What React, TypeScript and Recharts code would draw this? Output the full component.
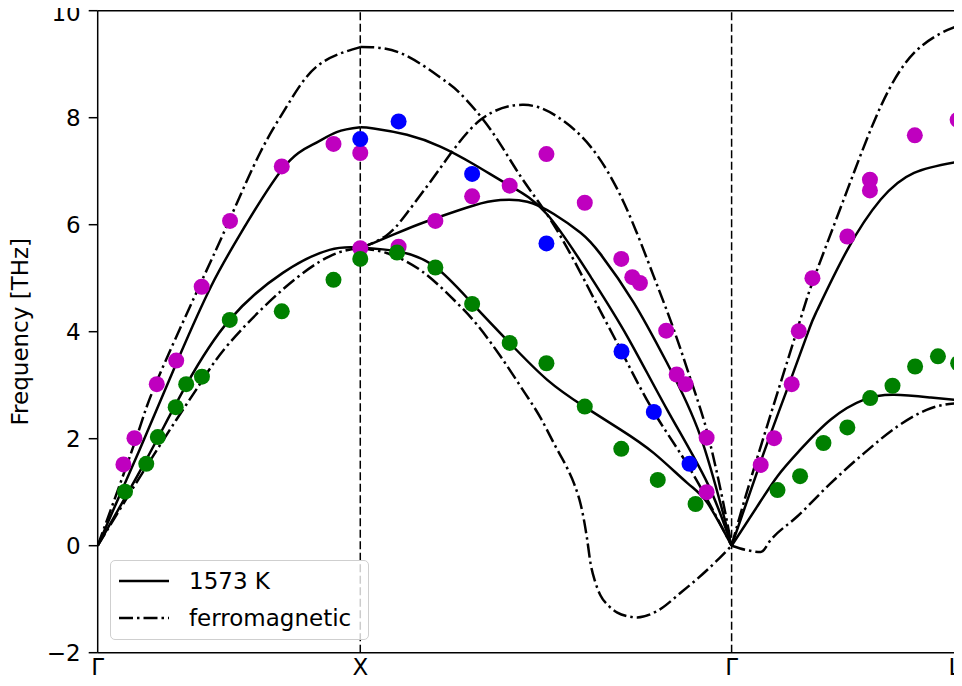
import { ComposedChart, Line, Scatter, XAxis, YAxis, ReferenceLine } from 'recharts';

// path coordinates of the high-symmetry points (Γ-X-Γ-L in fcc)
const symPoints = [0, 1, 2.4142, 3.2802];
const symLabels = ['Γ', 'X', 'Γ', 'L'];
const freqTicks = [-2, 0, 2, 4, 6, 8, 10];

type Pt = { q: number; f: number };
const pts = (rows: number[][]): Pt[] => rows.map(([q, f]) => ({ q, f }));

// 1573 K dispersion (solid)
const gxSolidUpper = pts([[0, 0], [0.16, 1.8], [0.311, 3.54], [0.432, 4.85], [0.54, 5.8], [0.705, 7.05], [0.82, 7.5], [0.91, 7.73], [1.0, 7.82]]);
const gxSolidLower = pts([[0, 0], [0.184, 1.6], [0.337, 3.0], [0.502, 4.22], [0.705, 5.1], [0.883, 5.53], [1.0, 5.57]]);
const xgSolidA = pts([[1.0, 7.82], [1.051, 7.8], [1.178, 7.68], [1.305, 7.46], [1.432, 7.13], [1.569, 6.73], [1.712, 6.19], [1.877, 5.03], [2.017, 3.91], [2.169, 2.54], [2.322, 1.17], [2.4142, 0]]);
const xgSolidB = pts([[1.0, 5.57], [1.051, 5.66], [1.178, 5.92], [1.286, 6.12], [1.432, 6.36], [1.534, 6.46], [1.636, 6.43], [1.737, 6.2], [1.839, 5.85], [1.915, 5.45], [2.042, 4.54], [2.169, 3.41], [2.296, 2.04], [2.4142, 0]]);
const xgSolidC = pts([[1.0, 5.57], [1.146, 5.5], [1.286, 5.21], [1.426, 4.53], [1.567, 3.8], [1.712, 3.1], [1.853, 2.6], [1.991, 2.17], [2.118, 1.73], [2.246, 1.17], [2.322, 0.8], [2.4142, 0]]);
const glSolidUpper = pts([[2.4142, 0], [2.532, 1.67], [2.633, 3.02], [2.709, 4.04], [2.741, 4.41], [2.855, 5.53], [2.982, 6.47], [3.109, 6.97], [3.2802, 7.18]]);
const glSolidLower = pts([[2.4142, 0], [2.51, 0.72], [2.589, 1.3], [2.675, 1.79], [2.792, 2.36], [2.919, 2.73], [3.033, 2.82], [3.173, 2.77], [3.2802, 2.72]]);

// ferromagnetic dispersion (dash-dot)
const gxDashUpper = pts([[0, 0], [0.146, 2.0], [0.222, 3.04], [0.387, 4.85], [0.502, 6.09], [0.619, 7.35], [0.72, 8.21], [0.835, 8.96], [1.0, 9.32]]);
const gxDashLower = pts([[0, 0], [0.15, 1.2], [0.299, 2.35], [0.397, 3.08], [0.502, 3.79], [0.705, 4.79], [0.883, 5.41], [1.0, 5.56]]);
const xgDashTop = pts([[1.0, 9.32], [1.153, 9.21], [1.305, 8.75], [1.381, 8.45], [1.496, 7.78], [1.611, 6.9], [1.725, 6.09], [1.839, 5.1], [1.915, 4.38], [1.995, 3.63], [2.118, 2.5], [2.254, 1.45], [2.4142, 0]]);
const xgDashHump = pts([[1.0, 5.56], [1.1, 5.8], [1.178, 6.22], [1.305, 7.06], [1.458, 7.96], [1.623, 8.24], [1.75, 8.02], [1.877, 7.46], [2.004, 6.41], [2.118, 5.03], [2.194, 4.04], [2.271, 2.92], [2.322, 2.11], [2.372, 1.05], [2.4142, 0]]);
const xgDashSoft = pts([[1.0, 5.56], [1.1, 5.47], [1.235, 5.13], [1.343, 4.66], [1.445, 4.13], [1.534, 3.54], [1.61, 2.98], [1.69, 2.36], [1.743, 1.86], [1.788, 1.45], [1.815, 1.15], [1.839, 0.78], [1.853, 0.45], [1.864, 0.12], [1.877, -0.33], [1.895, -0.68], [1.915, -0.93], [1.945, -1.12], [1.979, -1.25], [2.02, -1.32], [2.055, -1.34], [2.131, -1.22], [2.22, -0.88], [2.322, -0.45], [2.4142, 0]]);
const glDashUpper = pts([[2.4142, 0], [2.506, 1.55], [2.663, 4.02], [2.728, 5.0], [2.855, 6.65], [2.982, 8.21], [3.109, 9.21], [3.237, 9.64], [3.2802, 9.71]]);
const glDashLower = pts([[2.4142, 0], [2.47, -0.08], [2.525, -0.12], [2.565, 0.12], [2.665, 0.55], [2.792, 1.17], [2.919, 1.73], [3.046, 2.23], [3.173, 2.57], [3.2802, 2.67]]);

// measured phonon frequencies
const measMagenta = pts([
  [0.098, 1.52], [0.14, 2.01], [0.225, 3.02], [0.299, 3.46], [0.396, 4.84], [0.504, 6.07], [0.701, 7.09], [0.898, 7.51],
  [1.0, 7.34], [1.0, 5.56], [1.146, 5.59], [1.286, 6.07], [1.426, 6.53], [1.569, 6.73], [1.709, 7.32], [1.855, 6.41],
  [1.994, 5.36], [2.036, 5.02], [2.065, 4.91], [2.165, 4.02], [2.205, 3.2], [2.239, 3.02], [2.319, 2.02], [2.319, 1.0],
  [2.525, 1.51], [2.576, 2.01], [2.643, 3.02], [2.67, 4.01], [2.722, 5.0], [2.855, 5.78], [2.941, 6.64], [2.941, 6.84],
  [3.112, 7.67], [3.275, 7.96],
]);
const measBlue = pts([[1.0, 7.6], [1.146, 7.93], [1.426, 6.95], [1.709, 5.65], [1.995, 3.63], [2.118, 2.5], [2.254, 1.53]]);
const measGreen = pts([
  [0.104, 1.01], [0.185, 1.53], [0.229, 2.03], [0.297, 2.59], [0.337, 3.02], [0.397, 3.16], [0.503, 4.22], [0.701, 4.38],
  [0.898, 4.97], [1.0, 5.36], [1.14, 5.48], [1.286, 5.2], [1.426, 4.52], [1.569, 3.79], [1.709, 3.41], [1.855, 2.6],
  [1.994, 1.81], [2.133, 1.23], [2.277, 0.78], [2.589, 1.04], [2.675, 1.3], [2.764, 1.92], [2.855, 2.21], [2.942, 2.76],
  [3.027, 2.99], [3.113, 3.35], [3.2, 3.54], [3.277, 3.41],
]);

// the soft branch and the small dip near Γ need a non-overshooting curve
const solidBands: [Pt[], 'natural' | 'monotone'][] = [
  [gxSolidUpper, 'natural'], [gxSolidLower, 'natural'], [xgSolidA, 'natural'], [xgSolidB, 'natural'],
  [xgSolidC, 'natural'], [glSolidUpper, 'natural'], [glSolidLower, 'natural'],
];
const dashBands: [Pt[], 'natural' | 'monotone'][] = [
  [gxDashUpper, 'natural'], [gxDashLower, 'natural'], [xgDashTop, 'natural'], [xgDashHump, 'natural'],
  [xgDashSoft, 'monotone'], [glDashUpper, 'natural'], [glDashLower, 'monotone'],
];

const FONT = '"DejaVu Sans", sans-serif';
const DASH_DOT = '14 4 2.5 4';

const dot = (color: string) => (p: any) => <circle cx={p.cx} cy={p.cy} r={8} fill={color} />;

const fmtFreq = (v: number) => (v < 0 ? `\u2212${Math.abs(v)}` : String(v));
const fmtSym = (v: number) => symLabels[symPoints.indexOf(v)] ?? '';

const FreqLabel = ({ viewBox }: any) => (
  <text
    x={viewBox.x + 20}
    y={viewBox.y + viewBox.height / 2}
    transform={`rotate(-90, ${viewBox.x + 20}, ${viewBox.y + viewBox.height / 2})`}
    textAnchor="middle"
    dominantBaseline="central"
    fontSize={23}
    fontFamily={FONT}
    fill="#000"
  >
    Frequency [THz]
  </text>
);

export default function App() {
  return (
    <div style={{ position: 'relative', width: 962, height: 686, margin: -8, background: '#fff', fontFamily: FONT }}>
      <ComposedChart width={962} height={686} margin={{ top: 10.7, right: 3, bottom: 0, left: 0 }}>
        <XAxis
          type="number"
          dataKey="q"
          domain={[0, symPoints[3]]}
          ticks={symPoints}
          tickFormatter={fmtSym}
          height={33.3}
          tickLine={false}
          tickSize={0}
          tickMargin={6}
          axisLine={{ stroke: '#000', strokeWidth: 1.5 }}
          tick={{ fontSize: 23, fill: '#000', fontFamily: FONT }}
          allowDataOverflow
        />
        <YAxis
          type="number"
          dataKey="f"
          domain={[-2, 10]}
          ticks={freqTicks}
          tickFormatter={fmtFreq}
          width={97.7}
          tickSize={9}
          tickMargin={8}
          tickLine={{ stroke: '#000', strokeWidth: 1.5 }}
          axisLine={{ stroke: '#000', strokeWidth: 1.5 }}
          tick={{ fontSize: 23, fill: '#000', fontFamily: FONT }}
          label={<FreqLabel />}
          allowDataOverflow
        />
        <Scatter data={measMagenta} fill="#bf00bf" shape={dot('#bf00bf')} isAnimationActive={false} />
        <Scatter data={measGreen} fill="#008000" shape={dot('#008000')} isAnimationActive={false} />
        <Scatter data={measBlue} fill="#0000ff" shape={dot('#0000ff')} isAnimationActive={false} />
        {solidBands.map(([band, curve], i) => (
          <Line
            key={`s${i}`}
            data={band}
            dataKey="f"
            type={curve}
            stroke="#000"
            strokeWidth={2.5}
            dot={false}
            activeDot={false}
            isAnimationActive={false}
          />
        ))}
        {dashBands.map(([band, curve], i) => (
          <Line
            key={`d${i}`}
            data={band}
            dataKey="f"
            type={curve}
            stroke="#000"
            strokeWidth={2.5}
            strokeDasharray={DASH_DOT}
            dot={false}
            activeDot={false}
            isAnimationActive={false}
          />
        ))}
        <ReferenceLine x={symPoints[1]} stroke="#000" strokeWidth={1.5} strokeDasharray="8 3.5" />
        <ReferenceLine x={symPoints[2]} stroke="#000" strokeWidth={1.5} strokeDasharray="8 3.5" />
        <ReferenceLine y={10} stroke="#000" strokeWidth={1.5} />
        <ReferenceLine x={symPoints[3]} stroke="#000" strokeWidth={1.5} />
      </ComposedChart>

      {/* legend box, lower left of the plot */}
      <div
        style={{
          position: 'absolute',
          left: 110,
          top: 560,
          width: 259,
          height: 80,
          boxSizing: 'border-box',
          border: '1.5px solid #cfcfcf',
          borderRadius: 5,
          background: 'rgba(255,255,255,0.8)',
        }}
      >
        {[
          { label: '1573 K', dash: undefined, top: 20 },
          { label: 'ferromagnetic', dash: DASH_DOT, top: 57 },
        ].map((row) => (
          <div key={row.label} style={{ position: 'absolute', left: 0, top: row.top - 15, height: 30, display: 'flex', alignItems: 'center' }}>
            <svg width={78} height={30} style={{ display: 'block' }}>
              <line x1={8} x2={58} y1={15} y2={15} stroke="#000" strokeWidth={2.5} strokeDasharray={row.dash} />
            </svg>
            <span style={{ fontSize: 23, lineHeight: '30px', color: '#000', whiteSpace: 'nowrap' }}>{row.label}</span>
          </div>
        ))}
      </div>
    </div>
  );
}
